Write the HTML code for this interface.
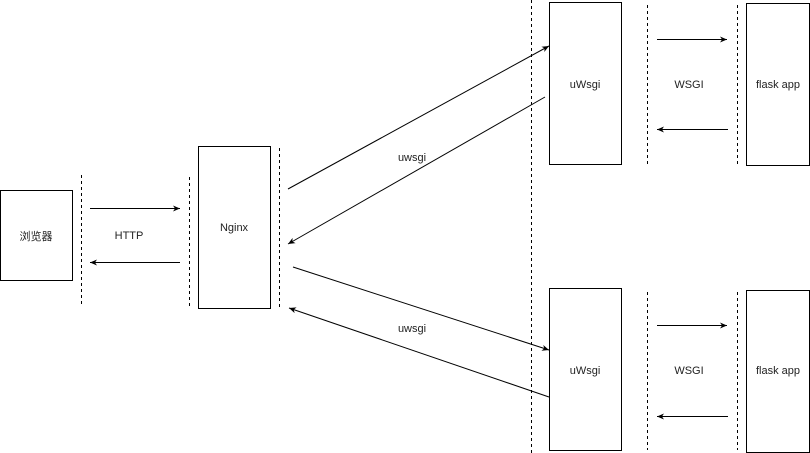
<!DOCTYPE html>
<html><head><style>body{margin:0;background:#fff}svg{display:block}</style></head><body>
<svg width="810" height="453" viewBox="0 0 810 453" xmlns="http://www.w3.org/2000/svg" font-family="Liberation Sans, Noto Sans CJK SC, sans-serif" font-size="11" fill="#000">
<defs><marker id="a" markerWidth="8" markerHeight="8" refX="7" refY="4" orient="auto" markerUnits="userSpaceOnUse"><path d="M0,1 L7,4 L0,7 L2,4 Z" fill="#000"/></marker></defs>
<g fill="none" stroke="#000" stroke-width="1">
<rect x="0.5" y="190.5" width="72" height="90"/>
<rect x="198.5" y="146.5" width="72" height="162"/>
<rect x="549.5" y="2.5" width="72" height="162"/>
<rect x="746.5" y="3.5" width="63" height="162"/>
<rect x="549.5" y="288.5" width="72" height="162"/>
<rect x="746.5" y="290.5" width="63" height="162"/>
<g stroke-dasharray="3,3">
<line x1="81.5" y1="175" x2="81.5" y2="307"/>
<line x1="189.5" y1="177" x2="189.5" y2="308"/>
<line x1="279.5" y1="148" x2="279.5" y2="308"/>
<line x1="531.5" y1="0" x2="531.5" y2="453"/>
<line x1="647.5" y1="5" x2="647.5" y2="165"/>
<line x1="737.5" y1="5" x2="737.5" y2="165"/>
<line x1="647.5" y1="292" x2="647.5" y2="450"/>
<line x1="737.5" y1="292" x2="737.5" y2="450"/>
</g>
<g marker-end="url(#a)">
<line x1="90" y1="208.5" x2="180" y2="208.5"/>
<line x1="180" y1="262.5" x2="90" y2="262.5"/>
<line x1="657" y1="39.5" x2="727" y2="39.5"/>
<line x1="728" y1="129.5" x2="657" y2="129.5"/>
<line x1="657" y1="325.5" x2="727" y2="325.5"/>
<line x1="728" y1="416.5" x2="657" y2="416.5"/>
<line x1="288" y1="189" x2="549" y2="46"/>
<line x1="545" y1="97" x2="288" y2="244"/>
<line x1="293" y1="267" x2="549" y2="350"/>
<line x1="549" y1="397" x2="289" y2="308"/>
</g>
</g>
<g text-anchor="middle" fill="#222">
<text x="36" y="240">浏览器</text>
<text x="129" y="239">HTTP</text>
<text x="234" y="231">Nginx</text>
<text x="412" y="161">uwsgi</text>
<text x="412" y="332">uwsgi</text>
<text x="585" y="88">uWsgi</text>
<text x="689" y="88">WSGI</text>
<text x="778" y="88">flask app</text>
<text x="585" y="374">uWsgi</text>
<text x="689" y="374">WSGI</text>
<text x="778" y="374">flask app</text>
</g>
</svg>
</body></html>
